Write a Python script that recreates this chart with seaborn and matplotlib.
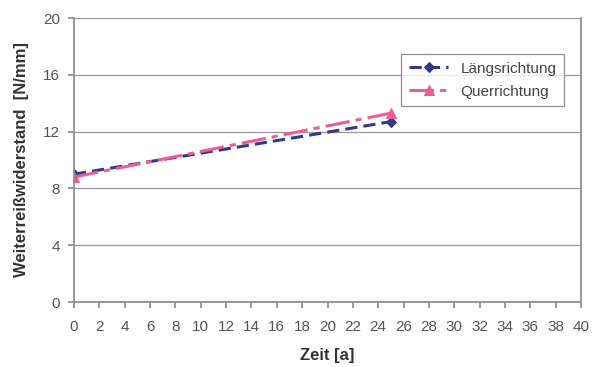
import matplotlib
matplotlib.use("Agg")
import matplotlib.pyplot as plt
import seaborn as sns
import pandas as pd

zeit = [0, 25]
laengs = [9.0, 12.7]
quer = [8.8, 13.3]
series_names = ["Längsrichtung", "Querrichtung"]
x_ticks = list(range(0, 41, 2))
y_ticks = [0, 4, 8, 12, 16, 20]

sns.set_theme(style="white")
plt.rcParams['font.family'] = ['Liberation Sans', 'DejaVu Sans']

fig = plt.figure(figsize=(6.01, 3.67), dpi=100)
ax = fig.add_axes([74/601, 1-302/367, 507/601, 284/367])

df = pd.DataFrame({"Zeit": zeit * 2,
                   "Wert": laengs + quer,
                   "Serie": [series_names[0]] * len(zeit) + [series_names[1]] * len(zeit)})

for name, color, ls, mk, ms in [(series_names[0], "#2f3b86", (0, (4, 2)), "D", 5),
                                (series_names[1], "#ec5d95", (0, (8, 2, 2, 2)), "^", 7)]:
    sub = df[df["Serie"] == name]
    sns.lineplot(data=sub, x="Zeit", y="Wert", ax=ax, color=color, linestyle=ls,
                 linewidth=2.2, marker=mk, markersize=ms, markeredgecolor=color,
                 label=name)

ax.set_xlim(0, 40)
ax.set_ylim(0, 20)
ax.set_xticks(x_ticks)
ax.set_yticks(y_ticks)
ax.grid(axis="y", color="#9a9a9a", linewidth=0.9)
ax.grid(axis="x", visible=False)
for s in ["left", "bottom", "right"]:
    ax.spines[s].set_visible(True)
    ax.spines[s].set_color("#8c8c8c")
ax.spines["top"].set_visible(False)
ax.tick_params(axis="both", which="both", length=4, color="#8c8c8c", direction="out",
               labelsize=11, labelcolor="#555555", bottom=True, left=True)
ax.tick_params(axis="x", pad=9)
ax.tick_params(axis="y", pad=6)
ax.set_xlabel("Zeit [a]", fontsize=12, fontweight="bold", color="#333333", labelpad=10)
ax.set_ylabel("Weiterreißwiderstand  [N/mm]", fontsize=12, fontweight="bold", color="#333333", labelpad=10)

leg = ax.legend(loc="upper left", bbox_to_anchor=(0.63, 0.9), frameon=True, fancybox=False,
                fontsize=11, handlelength=2.6, borderpad=0.5, labelspacing=0.6)
leg.get_frame().set_edgecolor("#777777")
leg.get_frame().set_linewidth(0.9)
for t in leg.get_texts():
    t.set_color("#444444")

fig.savefig("out.png", dpi=100)
